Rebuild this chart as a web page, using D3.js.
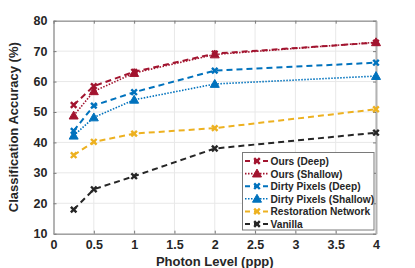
<!DOCTYPE html>
<html><head><meta charset="utf-8">
<script src="https://cdn.jsdelivr.net/npm/d3@7"></script>
<style>body{margin:0;background:#fff}svg{display:block}text{font-family:"Liberation Sans",Arial,sans-serif;font-weight:bold;fill:#262626}</style>
</head><body><svg id="c" width="415" height="268"></svg>
<script>
const photon = [0.25, 0.5, 1, 2, 4];
const oursDeep = [52.3, 58.5, 63.2, 69.2, 72.8];
const oursShallow = [48.8, 56.8, 62.8, 68.9, 72.9];
const dirtyDeep = [43.8, 52.1, 56.5, 63.6, 66.2];
const dirtyShallow = [42.2, 48.2, 54.0, 59.2, 61.8];
const restoration = [35.8, 40.2, 42.9, 44.7, 50.9];
const vanilla = [17.9, 24.6, 28.9, 38.0, 43.2];
const xTicks = [0, 0.5, 1, 1.5, 2, 2.5, 3, 3.5, 4];
const yTicks = [10, 20, 30, 40, 50, 60, 70, 80];
const seriesNames = ["Ours (Deep)", "Ours (Shallow)", "Dirty Pixels (Deep)", "Dirty Pixels (Shallow)", "Restoration Network", "Vanilla"];

const series = [
  {name: seriesNames[0], values: oursDeep, color: "#A2142F", dash: "6,4", width: 2, marker: "x"},
  {name: seriesNames[1], values: oursShallow, color: "#A2142F", dash: "1.5,1.5", width: 1.6, marker: "tri"},
  {name: seriesNames[2], values: dirtyDeep, color: "#0072BD", dash: "6,4", width: 2, marker: "x"},
  {name: seriesNames[3], values: dirtyShallow, color: "#0072BD", dash: "1.5,1.5", width: 1.6, marker: "tri"},
  {name: seriesNames[4], values: restoration, color: "#EDB120", dash: "6,4", width: 2, marker: "x"},
  {name: seriesNames[5], values: vanilla, color: "#262626", dash: "6,4", width: 2, marker: "x"}
];

const svg = d3.select("#c");
const L = 53.5, R = 376, T = 20.7, B = 233.7;
const x = d3.scaleLinear().domain([0, 4]).range([L, R]);
const y = d3.scaleLinear().domain([10, 80]).range([B, T]);

// grid
const g = svg.append("g");
g.selectAll(".gx").data(xTicks).join("line")
  .attr("x1", d => x(d)).attr("x2", d => x(d)).attr("y1", T).attr("y2", B)
  .attr("stroke", "#e8e8e8").attr("stroke-width", 1);
g.selectAll(".gy").data(yTicks).join("line")
  .attr("y1", d => y(d)).attr("y2", d => y(d)).attr("x1", L).attr("x2", R)
  .attr("stroke", "#e8e8e8").attr("stroke-width", 1);

// axes
const xAxis = d3.axisBottom(x).tickValues(xTicks).tickSizeInner(-3).tickSizeOuter(0).tickPadding(6)
  .tickFormat(d3.format("~g"));
const yAxis = d3.axisLeft(y).tickValues(yTicks).tickSizeInner(-3).tickSizeOuter(0).tickPadding(6);
const xa = svg.append("g").attr("transform", `translate(0,${B})`).call(xAxis);
const ya = svg.append("g").attr("transform", `translate(${L},0)`).call(yAxis);
const xt = svg.append("g").attr("transform", `translate(0,${T})`).call(d3.axisTop(x).tickValues(xTicks).tickSizeInner(-3).tickSizeOuter(0).tickFormat(""));
const yr = svg.append("g").attr("transform", `translate(${R},0)`).call(d3.axisRight(y).tickValues(yTicks).tickSizeInner(-3).tickSizeOuter(0).tickFormat(""));
[xa, ya, xt, yr].forEach(a => {
  a.select(".domain").attr("stroke", "#7a7a7a");
  a.selectAll(".tick line").attr("stroke", "#7a7a7a");
  a.selectAll("text").attr("font-size", 12.5).attr("font-family", "Liberation Sans, Arial, sans-serif").attr("font-weight", "bold").attr("fill", "#262626");
});
ya.select(".domain").attr("stroke", "#b3b3b3").attr("stroke-width", 2);
yr.select(".domain").attr("stroke", "#b3b3b3").attr("stroke-width", 2);

// lines
const line = d3.line().x((d, i) => x(photon[i])).y(d => y(d));
function drawMarker(sel, type, color, cx, cy) {
  if (type === "x") {
    const s = 2.8;
    sel.append("path").attr("d", `M${cx-s},${cy-s}L${cx+s},${cy+s}M${cx-s},${cy+s}L${cx+s},${cy-s}`)
      .attr("stroke", color).attr("stroke-width", 2.4).attr("fill", "none");
  } else {
    const s = 4.5;
    sel.append("path").attr("d", `M${cx},${cy-s}L${cx+s},${cy+s*0.75}L${cx-s},${cy+s*0.75}Z`)
      .attr("fill", color).attr("stroke", color).attr("stroke-width", 1);
  }
}
const plot = svg.append("g");
series.slice().reverse().forEach(s => {
  plot.append("path").datum(s.values).attr("d", line)
    .attr("fill", "none").attr("stroke", s.color).attr("stroke-width", s.width).attr("stroke-dasharray", s.dash);
  s.values.forEach((v, i) => drawMarker(plot, s.marker, s.color, x(photon[i]), y(v)));
});

// legend
const lg = svg.append("g");
const lx = 242.5, ly = 152.5, lw = 131.5, lh = 77.5;
lg.append("rect").attr("x", lx).attr("y", ly).attr("width", lw).attr("height", lh)
  .attr("fill", "#fff").attr("stroke", "#7a7a7a").attr("stroke-width", 1);
series.forEach((s, i) => {
  const cy = ly + 8.5 + i * 12.6;
  lg.append("line").attr("x1", lx + 2.5).attr("x2", lx + 26.5).attr("y1", cy).attr("y2", cy)
    .attr("stroke", s.color).attr("stroke-width", s.width).attr("stroke-dasharray", s.dash === "6,4" ? "5,4" : s.dash);
  drawMarker(lg, s.marker, s.color, lx + 14.5, cy);
  lg.append("text").attr("x", lx + 28).attr("y", cy + 4).attr("font-size", 10.2).text(s.name);
});

// axis labels
svg.append("text").attr("x", (L + R) / 2).attr("y", 265.5).attr("text-anchor", "middle")
  .attr("font-size", 13).text("Photon Level (ppp)");
svg.append("text").attr("transform", `translate(18,${(T + B) / 2}) rotate(-90)`).attr("text-anchor", "middle")
  .attr("font-size", 13).text("Classification Accuracy (%)");
</script></body></html>
